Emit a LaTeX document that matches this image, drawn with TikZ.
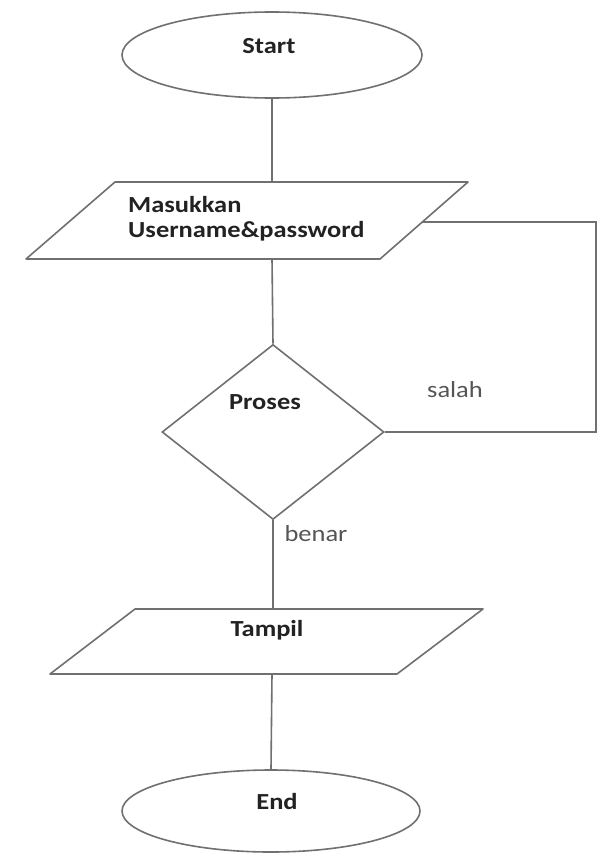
\documentclass[tikz,border=0pt]{standalone}
\usepackage{fontspec}
\setmainfont{Carlito}[FakeStretch=1.15]
\usetikzlibrary{shapes.geometric}
\definecolor{lin}{HTML}{707070}
\definecolor{txt}{HTML}{222222}
\definecolor{lbl}{HTML}{555555}
\begin{document}
\begin{tikzpicture}[x=1pt,y=-1pt,
  shp/.style={draw=lin,line width=1.6pt},
  conn/.style={draw=lin,line width=1.6pt},
  btxt/.style={font=\fontsize{23}{25}\selectfont\bfseries,text=txt,inner sep=0pt},
  ltxt/.style={font=\fontsize{23}{25}\selectfont,text=lbl,inner sep=0pt}]
\useasboundingbox (0,0) rectangle (598,854);
\fill[white] (0,0) rectangle (598,854);
% Start
\node[shp,ellipse,minimum width=300pt,minimum height=86pt,inner sep=0pt] (start) at (272,55) {};
\node[btxt] (startT) at (269,46) {Start};
% Input parallelogram
\coordinate (inTL) at (115,182);
\coordinate (inTR) at (468,182);
\coordinate (inBR) at (380,259);
\coordinate (inBL) at (26,259);
\draw[shp,line join=round] (inTL) -- (inTR) -- (inBR) -- (inBL) -- cycle;
\coordinate (inTop) at (272,182);
\coordinate (inBot) at (272,259);
\coordinate (inRight) at (422,222);
\node[btxt,align=left,anchor=north west] (inT) at (128,196) {Masukkan\\Username\&password};
% Decision
\node[shp,diamond,minimum width=222pt,minimum height=175pt,inner sep=0pt] (dec) at (273,432) {};
\node[btxt] (decT) at (265,402) {Proses};
% Output parallelogram
\coordinate (outTL) at (135,609);
\coordinate (outTR) at (483,609);
\coordinate (outBR) at (397,674);
\coordinate (outBL) at (50,674);
\draw[shp,line join=round] (outTL) -- (outTR) -- (outBR) -- (outBL) -- cycle;
\coordinate (outTop) at (273,609);
\coordinate (outBot) at (272,674);
\node[btxt] (outT) at (267,630) {Tampil};
% End
\node[shp,ellipse,minimum width=298pt,minimum height=82pt,inner sep=0pt] (endE) at (271,811) {};
\node[btxt] (endT) at (277,802) {End};
% connectors
\draw[conn] (start.south) -- (inTop);
\draw[conn] (inBot) -- (dec.north);
\coordinate (loopA) at (596,222);
\coordinate (loopB) at (596,432);
\draw[conn] (inRight) -- (loopA) -- (loopB) -- (dec.east);
\draw[conn] (dec.south) -- (outTop);
\draw[conn] (outBot) -- (endE.north);
% labels
\node[ltxt] (salah) at (455,390) {salah};
\node[ltxt] (benar) at (316,534) {benar};
\end{tikzpicture}
\end{document}
